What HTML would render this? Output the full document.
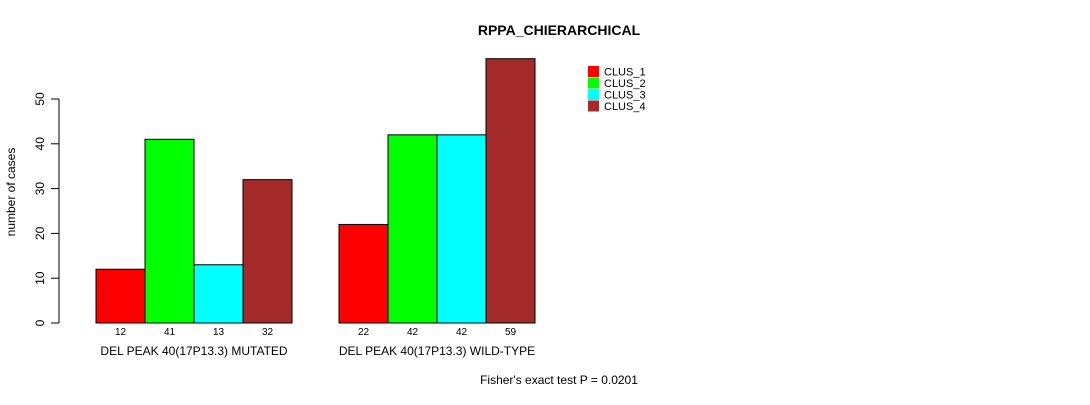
<!DOCTYPE html>
<html><head><meta charset="utf-8"><style>
body{margin:0;background:#fff}
svg text{font-family:"Liberation Sans",sans-serif}
</style></head><body>
<svg width="1090" height="400">
<text x="559" y="35" text-anchor="middle" font-size="14" font-weight="bold">RPPA_CHIERARCHICAL</text>
<text transform="translate(15,192) rotate(-90)" text-anchor="middle" font-size="12">number of cases</text>
<g id="yaxis"></g>
<g id="bars"></g>
<g id="legend"></g>
<text x="559" y="384" text-anchor="middle" font-size="12">Fisher's exact test P = 0.0201</text>
</svg>
<script>
const groups=["DEL PEAK 40(17P13.3) MUTATED","DEL PEAK 40(17P13.3) WILD-TYPE"];
const clusters=["CLUS_1","CLUS_2","CLUS_3","CLUS_4"];
const colors=["#ff0000","#00ff00","#00ffff","#a52a2a"];
const mutated=[12,41,13,32];
const wildtype=[22,42,42,59];
const yTicks=[0,10,20,30,40,50];
const NS="http://www.w3.org/2000/svg";
function y(v){return 323-v*4.48;}
const groupStart=[96,339], bw=49;
function mk(t,a,p){const e=document.createElementNS(NS,t);for(const k in a)e.setAttribute(k,a[k]);p.appendChild(e);return e;}
const ya=document.getElementById('yaxis');
let l=mk('line',{x1:59,x2:59,y1:y(yTicks[0]),y2:y(yTicks[yTicks.length-1]),stroke:'#000'},ya);


yTicks.forEach(t=>{
 const tk=mk('line',{x1:51,x2:59,y1:y(t),y2:y(t),stroke:'#000'},ya);
 
 
 const tx=mk('text',{transform:`translate(44,${y(t)}) rotate(-90)`,'text-anchor':'middle','font-size':12},ya);
 tx.textContent=t;
 
 
});
const bg=document.getElementById('bars');
[mutated,wildtype].forEach((vals,g)=>{
 vals.forEach((v,i)=>{
  const x=groupStart[g]+i*bw;
  const r=mk('rect',{x:x,y:y(v),width:bw,height:y(0)-y(v),fill:colors[i],stroke:'#000'},bg);
  
  
  const t=mk('text',{x:x+bw/2,y:335,'text-anchor':'middle','font-size':10},bg);
  t.textContent=v;
  
  
 });
 const gl=mk('text',{x:groupStart[g]+2*bw,y:355,'text-anchor':'middle','font-size':12},bg);
 gl.textContent=groups[g];
 
 
});
const lg=document.getElementById('legend');
clusters.forEach((c,i)=>{
 const yy=66+i*11.5;
 const r=mk('rect',{x:588,y:yy,width:11,height:11,fill:colors[i]},lg);
 
 
 const t=mk('text',{x:604,y:yy+9.5,'font-size':11},lg);
 t.textContent=c;
 
 
});
</script>
</body></html>
